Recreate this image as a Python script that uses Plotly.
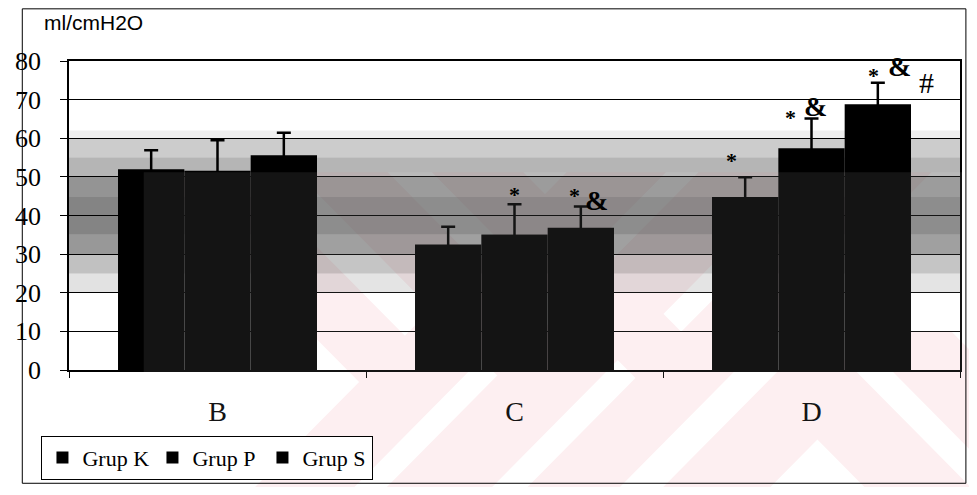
import plotly.graph_objects as go

# ---------------- data ----------------
categories = ["B", "C", "D"]
series_names = ["Grup K", "Grup P", "Grup S"]
grup_k = [52.0, 32.5, 44.8]
grup_p = [51.6, 35.1, 57.4]
grup_s = [55.6, 36.8, 68.8]
sd_k = [4.9, 4.6, 5.1]
sd_p = [7.9, 7.8, 7.7]
sd_s = [5.8, 5.5, 5.6]
y_ticks = [0, 10, 20, 30, 40, 50, 60, 70, 80]
y_unit = "ml/cmH2O"
# significance marks: (category, series, symbol)
marks = [("C", "Grup P", "*"), ("C", "Grup S", "*"), ("C", "Grup S", "&"),
         ("D", "Grup K", "*"), ("D", "Grup P", "*"), ("D", "Grup P", "&"),
         ("D", "Grup S", "*"), ("D", "Grup S", "&"), ("D", "Grup S", "#")]

# ---------------- layout constants ----------------
OFF = 8                      # default page margin of the html body
FW, FH = 977 - 2 * OFF, 495 - 2 * OFF
ML, MT = 56 - OFF, 61 - OFF
MR = FW - (962 - OFF)
MB = FH - (372 - OFF)
PW, PH = FW - ML - MR, FH - MT - MB
BARGAP = 0.33
SERIF = "Liberation Serif, Times New Roman, serif"
SANS = "Liberation Sans, Arial, sans-serif"


def pxx(x):  # page pixel -> paper
    return (x - OFF - ML) / PW


def pxy(y):
    return (FH - MB - (y - OFF)) / PH


def path_px(pts):
    return "M " + " L ".join(f"{pxx(x):.5f},{pxy(y):.5f}" for x, y in pts) + " Z"


fig = go.Figure()
vals = [grup_k, grup_p, grup_s]
sds = [sd_k, sd_p, sd_s]
colors = ["#000000", "#000000", "#000000"]
for name, v, e, c in zip(series_names, vals, sds, colors):
    fig.add_trace(go.Bar(
        x=categories, y=v, name=name, marker=dict(color=c, line=dict(width=0)),
        error_y=dict(type="data", array=e, visible=True, color="#000000",
                     thickness=2.5, width=7),
    ))

shapes = []
# watermark pink stripes (opaque, below grid)
PINK = "#fdeef0"
for a, b, w in [(140, 355, 101), (287, 489, 107), (425, 632, 94)]:
    yi = (b - a + 460) / 2
    xi = a - 80 + yi
    yo = (b - a + 553) / 2
    xo = a - 173 + yo
    pts = [(a, 173), (a + 93, 173), (xi, yi), (b + 207, 173), (b + w + 207, 173),
           (b + w - 115, 495), (b - 115, 495), (xo, yo)]
    shapes.append(dict(type="path", xref="paper", yref="paper", path=path_px(pts),
                       fillcolor=PINK, line=dict(width=0), layer="below"))
# chevron on the right
shapes.append(dict(type="path", xref="paper", yref="paper",
                   path=path_px([(816.5, 333.5), (978, 495), (870, 495), (817, 442),
                                 (764, 495), (655, 495)]),
                   fillcolor=PINK, line=dict(width=0), layer="below"))
shapes.append(dict(type="path", xref="paper", yref="paper",
                   path=path_px([(853, 333), (953, 333), (977, 357), (977, 457)]),
                   fillcolor=PINK, line=dict(width=0), layer="below"))

# speckled grey band (approximated by translucent bands)
bands = [(60, 62, 0.08), (55, 60, 0.25), (50, 55, 0.36), (45, 50, 0.52),
         (35, 45, 0.6), (30, 35, 0.5), (25, 30, 0.3), (20, 25, 0.14)]
for y0, y1, al in bands:
    shapes.append(dict(type="rect", xref="paper", yref="y", x0=0, x1=1, y0=y0, y1=y1,
                       fillcolor=f"rgba(50,50,50,{al})", line=dict(width=0), layer="below"))

# watermark light veil over bars
shapes.append(dict(type="rect", xref="paper", yref="paper",
                   x0=pxx(132), x1=pxx(977), y0=pxy(495), y1=pxy(173),
                   fillcolor="rgba(255,255,255,0.08)", line=dict(width=0), layer="above"))
# outer frame (clipped to the figure)
shapes.append(dict(type="rect", xref="paper", yref="paper",
                   x0=pxx(8.5), x1=pxx(968), y0=pxy(486), y1=pxy(8.5),
                   line=dict(color="#000000", width=1), fillcolor="rgba(0,0,0,0)", layer="above"))

annotations = [dict(text=y_unit, xref="paper", yref="paper", x=pxx(29), y=pxy(22),
                    xanchor="left", yanchor="middle", showarrow=False,
                    font=dict(family=SANS, size=21, color="#000000"))]

bw = (1 - BARGAP) / 3
offs = {"Grup K": -bw, "Grup P": 0.0, "Grup S": bw}
lookup = {s: (v, e) for s, v, e in zip(series_names, vals, sds)}
shift = {
    ("C", "Grup P", "*"): (0, 10),
    ("C", "Grup S", "*"): (-6, 11),
    ("C", "Grup S", "&"): (16, 6),
    ("D", "Grup K", "*"): (-14, 17),
    ("D", "Grup P", "*"): (-21, 1),
    ("D", "Grup P", "&"): (4, 12),
    ("D", "Grup S", "*"): (-4, 7),
    ("D", "Grup S", "&"): (22, 16),
    ("D", "Grup S", "#"): (49, 0),
}
sizes = {"*": 22, "&": 28, "#": 30}
for cat, ser, sym in marks:
    ci = categories.index(cat)
    v, e = lookup[ser]
    dx, dy = shift[(cat, ser, sym)]
    txt = sym if sym == "#" else f"<b>{sym}</b>"
    annotations.append(dict(text=txt, x=ci + offs[ser], y=v[ci] + e[ci],
                            xref="x", yref="y", xshift=dx, yshift=dy, showarrow=False,
                            font=dict(family=SERIF, size=sizes[sym], color="#000000")))

fig.update_layout(
    width=FW, height=FH,
    margin=dict(l=ML, r=MR, t=MT, b=MB, pad=0),
    paper_bgcolor="#ffffff", plot_bgcolor="#ffffff",
    barmode="group", bargap=BARGAP, bargroupgap=0,
    showlegend=True,
    legend=dict(orientation="h", x=pxx(28), y=pxy(438), xanchor="left", yanchor="top",
                bgcolor="#ffffff", bordercolor="#000000", borderwidth=1,
                font=dict(family=SERIF, size=22, color="#000000"),
                itemwidth=30, entrywidth=65, entrywidthmode="pixels",
                traceorder="normal"),
    shapes=shapes, annotations=annotations,
    font=dict(family=SERIF, color="#000000"),
)
fig.update_xaxes(
    type="category", showline=True, linecolor="#000000", linewidth=1.5, mirror=True,
    ticks="outside", tickson="boundaries", ticklen=6, tickcolor="#000000",
    showgrid=False, ticklabelstandoff=16,
    tickfont=dict(family=SERIF, size=28, color="#000000"),
)
fig.update_yaxes(
    range=[0, 80], tickvals=y_ticks, showline=True, linecolor="#000000", linewidth=1.5,
    mirror=True, ticks="outside", ticklen=7, tickcolor="#000000",
    showgrid=True, gridcolor="#000000", gridwidth=1, zeroline=False,
    ticklabelstandoff=14,
    tickfont=dict(family=SERIF, size=26, color="#000000"),
)

fig.write_html("out.html")
